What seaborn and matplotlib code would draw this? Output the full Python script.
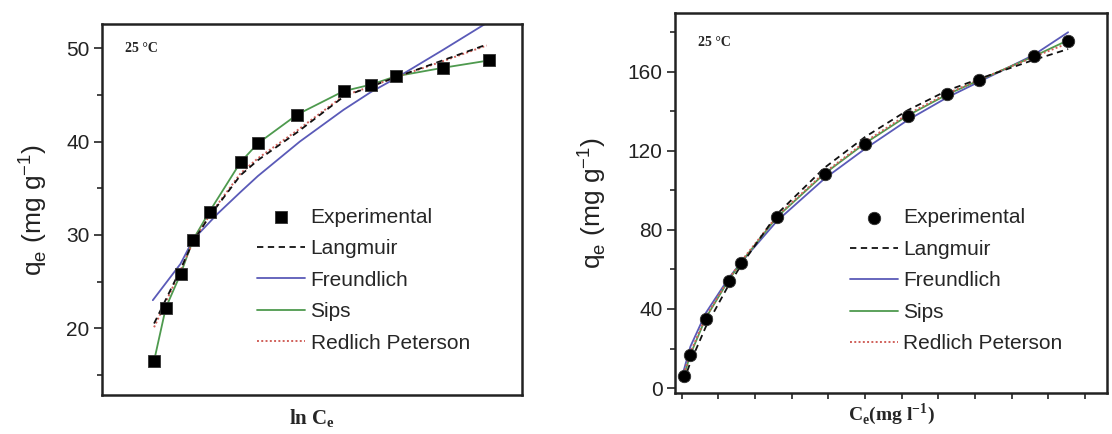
import matplotlib
matplotlib.use("Agg")
import matplotlib.pyplot as plt
import seaborn as sns
from matplotlib.ticker import MultipleLocator, NullFormatter, FixedLocator

sns.set_style("ticks")
plt.rcParams['font.family'] = ['Liberation Sans', 'DejaVu Sans']

# ---------------- Left panel data (x = ln Ce, arbitrary units, no tick labels) -------------
lnce_exp = [1.24, 1.52, 1.87, 2.17, 2.56, 3.30, 3.71, 4.65, 5.75, 6.40, 7.00, 8.11, 9.22]
qe_exp_left = [16.5, 22.2, 25.8, 29.5, 32.5, 37.8, 39.8, 42.9, 45.4, 46.1, 47.0, 47.9, 48.7]

lnce_freund = [1.21, 1.87, 2.17, 2.76, 3.30, 3.71, 4.71, 5.75, 6.40, 7.00, 8.11, 9.12]
qe_freund_left = [23.0, 26.9, 29.5, 32.3, 34.6, 36.3, 40.0, 43.4, 45.3, 46.8, 49.8, 52.6]

lnce_lang = [1.24, 1.87, 2.17, 2.56, 3.30, 3.71, 4.65, 5.75, 6.40, 7.00, 8.11, 9.16]
qe_lang_left = [20.5, 26.3, 29.3, 32.0, 36.4, 38.0, 41.0, 44.8, 45.9, 46.9, 48.7, 50.4]
qe_rp_left = [20.1, 26.2, 29.3, 32.1, 36.6, 38.2, 41.2, 44.9, 45.9, 46.9, 48.6, 50.3]

qe_sips_left = [16.5, 22.2, 25.8, 29.5, 32.5, 37.8, 39.8, 42.9, 45.4, 46.1, 47.0, 47.9, 48.7]

# ---------------- Right panel data (x = Ce, mg/l) -------------
ce_exp = [3, 12, 33, 64, 81, 130, 195, 250, 308, 362, 406, 480, 527]
qe_exp_right = [6.0, 16.5, 34.7, 54.0, 63.2, 86.5, 108.5, 123.6, 137.6, 148.6, 156.0, 168.0, 175.5]
qe_freund_right = [9.0, 21.0, 38.0, 55.5, 63.5, 84.5, 106.0, 121.0, 135.5, 147.0, 155.0, 168.5, 180.0]
qe_lang_right = [3.5, 13.0, 31.0, 52.0, 62.0, 88.0, 111.5, 127.0, 140.5, 150.5, 156.5, 166.0, 171.5]
qe_sips_right = [6.0, 17.0, 35.5, 54.5, 63.5, 86.5, 108.5, 123.8, 137.8, 148.5, 155.8, 167.8, 176.0]
qe_rp_right = [7.0, 18.0, 36.0, 55.0, 64.0, 87.0, 109.0, 124.5, 138.5, 149.0, 156.0, 167.5, 174.5]

labels = ["Experimental", "Langmuir", "Freundlich", "Sips", "Redlich Peterson"]

C_FREUND = "#5a5ab8"
C_SIPS = "#4e9a4e"
C_LANG = "#111111"
C_RP = "#d0605a"

fig = plt.figure(figsize=(11.12, 4.34), dpi=100)
axL = fig.add_axes([102 / 1112, 1 - 395 / 434, 420 / 1112, 371 / 434])
axR = fig.add_axes([675 / 1112, 1 - 393 / 434, 432 / 1112, 380.5 / 434])

TICK_FS = 15
LEG_FS = 15


def draw(ax, x_exp, y_exp, x_f, y_f, x_l, y_l, y_rp, x_s, y_s, marker, msize):
    sns.lineplot(x=x_f, y=y_f, ax=ax, color=C_FREUND, lw=1.3, estimator=None, sort=False,
                 label="Freundlich", zorder=2)
    sns.lineplot(x=x_s, y=y_s, ax=ax, color=C_SIPS, lw=1.3, estimator=None, sort=False,
                 label="Sips", zorder=2)
    sns.lineplot(x=x_l, y=y_rp, ax=ax, color=C_RP, lw=1.4, estimator=None, sort=False,
                 label="Redlich Peterson", zorder=3)
    ax.lines[-1].set_linestyle((0, (1, 1.2)))
    sns.lineplot(x=x_l, y=y_l, ax=ax, color=C_LANG, lw=1.3, estimator=None, sort=False,
                 label="Langmuir", zorder=3)
    ax.lines[-1].set_linestyle((0, (3.5, 2.5)))
    sns.scatterplot(x=x_exp, y=y_exp, ax=ax, marker=marker, s=msize, color="black",
                    edgecolor="#333333", linewidth=0.6, label="Experimental", zorder=5)
    handles, labs = ax.get_legend_handles_labels()
    order = [labs.index(l) for l in labels]
    return [handles[i] for i in order]


hL = draw(axL, lnce_exp, qe_exp_left, lnce_freund, qe_freund_left, lnce_lang, qe_lang_left,
          qe_rp_left, lnce_exp, qe_sips_left, "s", 65)
hR = draw(axR, ce_exp, qe_exp_right, ce_exp, qe_freund_right, ce_exp, qe_lang_right,
          qe_rp_right, ce_exp, qe_sips_right, "o", 80)

# Left axes formatting
axL.set_xlim(0, 10)
axL.set_ylim(12.84, 52.6)
axL.yaxis.set_major_locator(FixedLocator([20, 30, 40, 50]))
axL.yaxis.set_minor_locator(FixedLocator([15, 25, 35, 45]))
axL.set_xticks([])
axL.tick_params(axis="y", which="major", length=6, width=1.2, labelsize=TICK_FS, pad=3)
axL.tick_params(axis="y", which="minor", length=3.5, width=1.2)

# Right axes formatting
axR.set_xlim(-9, 580)
axR.set_ylim(-2.5, 190)
axR.yaxis.set_major_locator(FixedLocator([0, 40, 80, 120, 160]))
axR.yaxis.set_minor_locator(FixedLocator([20, 60, 100, 140, 180]))
axR.xaxis.set_major_locator(MultipleLocator(50))
axR.xaxis.set_major_formatter(NullFormatter())
axR.tick_params(axis="y", which="major", length=6, width=1.2, labelsize=TICK_FS, pad=3)
axR.tick_params(axis="y", which="minor", length=3.5, width=1.2)
axR.tick_params(axis="x", which="major", length=4, width=1.2, pad=1)

for ax in (axL, axR):
    for sp in ax.spines.values():
        sp.set_visible(True)
        sp.set_linewidth(1.8)
        sp.set_color("#222222")
    ax.tick_params(colors="#222222")
    for t in ax.get_yticklabels():
        t.set_color("#222222")

ylab = r"q$_\mathregular{e}$ (mg g$^\mathregular{-1}$)"
axL.set_ylabel(ylab, fontsize=19, labelpad=12, color="#222222")
axR.set_ylabel(ylab, fontsize=19, labelpad=14, color="#222222")

serif = ['Liberation Serif', 'DejaVu Serif']
axL.set_xlabel(r"ln C$_\mathregular{e}$", fontsize=15, fontweight="bold", family=serif,
               labelpad=9)
axR.set_xlabel(r"C$_\mathregular{e}$(mg l$^\mathregular{-1}$)", fontsize=14, fontweight="bold",
               family=serif, labelpad=1)

axL.text(0.055, 0.935, "25 °C", transform=axL.transAxes, fontsize=10, fontweight="bold",
         family=serif, va="center", ha="left")
axR.text(0.053, 0.92, "25 °C", transform=axR.transAxes, fontsize=10, fontweight="bold",
         family=serif, va="center", ha="left")

for ax, h, anchor in ((axL, hL, (0.37, 0.505)), (axR, hR, (0.405, 0.485))):
    ax.legend(h, labels, loc="upper left", bbox_to_anchor=anchor, frameon=False,
              fontsize=LEG_FS, handlelength=2.3, handletextpad=0.25, labelspacing=0.6,
              borderaxespad=0, borderpad=0)

fig.savefig("out.png", dpi=100)
